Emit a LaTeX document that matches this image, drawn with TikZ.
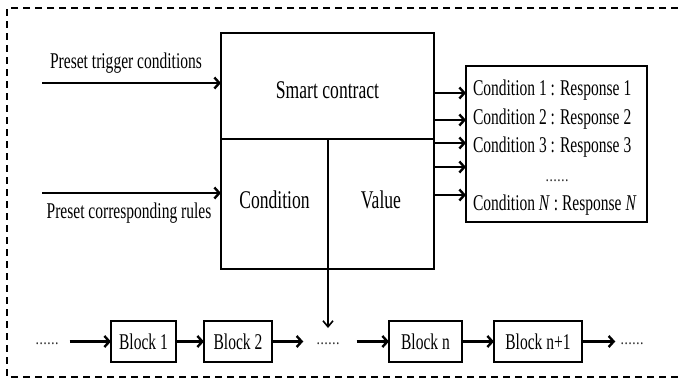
\documentclass[tikz,border=0pt]{standalone}
\usepackage{fontspec}
\setmainfont{Liberation Serif}
\usetikzlibrary{arrows.meta}
\newcommand\cz[1]{\scalebox{0.69}[1]{#1}}
\newcommand\fsm{\fontsize{22.5}{27}\selectfont}
\newcommand\flg{\fontsize{25.5}{30}\selectfont}
\newcommand\fdt{\fontsize{17}{20}\selectfont}
\tikzset{
  boxnode/.style={draw, line width=2.5pt, outer sep=0pt, inner sep=0pt, rectangle},
  txt/.style={inner sep=0pt, outer sep=0pt, font=\fsm},
  dots/.style={inner sep=0pt, outer sep=0pt, font=\fdt, anchor=base},
  arr/.style={line width=2.6pt, -{Straight Barb[length=5pt,width=11pt,line width=2.4pt]}},
  darr/.style={line width=1.6pt, -{Straight Barb[length=6pt,width=10pt]}},
  border/.style={line width=1.8pt, dash pattern=on 7pt off 5pt}
}
\begin{document}
\begin{tikzpicture}[x=1pt,y=-1pt]
\useasboundingbox (0,0) rectangle (678,381);
% dashed frame (open at the right)
\draw[border] (678,8) -- (7,8) -- (7,377) -- (678,377);

% smart contract
\node[boxnode, minimum width=213pt, minimum height=106pt, font=\flg, text height=24pt, text depth=0pt] (sc) at (327.5,86) {\cz{Smart contract}};
\node[boxnode, minimum width=107pt, minimum height=130pt, font=\flg, text height=12pt, text depth=4pt] (cond) at (274.5,204) {\cz{Condition}};
\node[boxnode, minimum width=106pt, minimum height=130pt, font=\flg, text height=12pt, text depth=4pt] (val) at (381,204) {\cz{Value}};

% inputs
\node[txt, anchor=base] (lab1) at (126,68) {\cz{Preset trigger conditions}};
\node[txt, anchor=base] (lab2) at (129,218) {\cz{Preset corresponding rules}};
\coordinate (in1) at (42,83);
\coordinate (in2) at (42,193);
\draw[arr] (in1) -- (in1 -| sc.west);
\draw[arr] (in2) -- (in2 -| cond.west);

% responses
\node[boxnode, minimum width=181pt, minimum height=156pt] (resp) at (556.5,144) {};
\node[txt, anchor=base west] (r1) at (473,95) {\cz{Condition 1 : Response 1}};
\node[txt, anchor=base west] (r2) at (473,124) {\cz{Condition 2 : Response 2}};
\node[txt, anchor=base west] (r3) at (473,152) {\cz{Condition 3 : Response 3}};
\node[dots] (r4) at (557,181) {\cz{……}};
\node[txt, anchor=base west] (r5) at (473,210) {\cz{Condition \textit{N} : Response \textit{N}}};

\coordinate (y1) at (0,93);
\coordinate (y2) at (0,120);
\coordinate (y3) at (0,143);
\coordinate (y4) at (0,167);
\coordinate (y5) at (0,195);
\draw[arr] (sc.east |- y1) -- (resp.west |- y1);
\draw[arr] (sc.east |- y2) -- (resp.west |- y2);
\draw[arr] (val.east |- y3) -- (resp.west |- y3);
\draw[arr] (val.east |- y4) -- (resp.west |- y4);
\draw[arr] (val.east |- y5) -- (resp.west |- y5);

% chain
\node[boxnode, minimum width=65pt, minimum height=41pt, font=\fsm, text height=15pt, text depth=0pt] (b1) at (143.5,341.5) {\cz{Block 1}};
\node[boxnode, minimum width=68pt, minimum height=41pt, font=\fsm, text height=15pt, text depth=0pt] (b2) at (238,341.5) {\cz{Block 2}};
\node[boxnode, minimum width=73pt, minimum height=41pt, font=\fsm, text height=15pt, text depth=0pt] (bn) at (425.5,341.5) {\cz{Block n}};
\node[boxnode, minimum width=88pt, minimum height=41pt, font=\fsm, text height=15pt, text depth=0pt] (bn1) at (538,341.5) {\cz{Block n+1}};
\node[dots] (d1) at (47,344) {\cz{……}};
\node[dots] (d2) at (328,344) {\cz{……}};
\node[dots] (d3) at (632,344) {\cz{……}};

\draw[arr, shorten <=11pt] (d1.east |- b1.west) -- (b1.west);
\draw[arr] (b1.east) -- (b2.west);
\draw[arr, shorten >=13pt] (b2.east) -- (d2.west |- b2.east);
\draw[arr, shorten <=17pt] (d2.east |- bn.west) -- (bn.west);
\draw[arr] (bn.east) -- (bn1.west);
\draw[arr, shorten >=5pt] (bn1.east) -- (d3.west |- bn1.east);

% down arrow
\coordinate (tip) at (328,328);
\draw[darr] (cond.south east) -- (tip);
\end{tikzpicture}
\end{document}
